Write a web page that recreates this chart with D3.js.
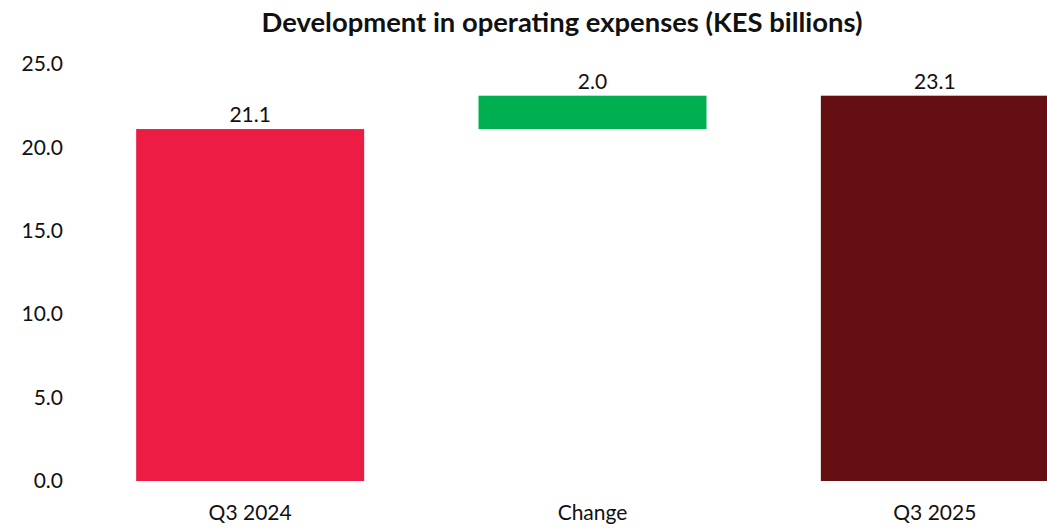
<!DOCTYPE html>
<html lang="en">
<head>
<meta charset="UTF-8">
<title>Development in operating expenses</title>
<script src="https://cdn.jsdelivr.net/npm/d3@7"></script>
<style>
  body { margin: 0; background: #fff; }
  text { font-family: Lato, "Open Sans", sans-serif; fill: #111; }
</style>
</head>
<body>
<svg id="mainsvg" width="1047" height="528"></svg>
<script>
    // data
    const categories = ['Q3 2024', 'Change', 'Q3 2025'];
    const barStart = [0, 21.1, 0];
    const barEnd = [21.1, 23.1, 23.1];
    const labels = ['21.1', '2.0', '23.1'];
    const colors = ['#EC1C45', '#00AF50', '#650F12'];
    const yTicks = [0, 5, 10, 15, 20, 25];

    const svg = d3.select('#mainsvg');

    const xScale = d3.scaleBand()
        .domain(categories)
        .range([79, 1106])
        .paddingInner(0.334)
        .paddingOuter(0.167);

    const yScale = d3.scaleLinear()
        .domain([0, 25])
        .range([481, 64]);

    const rows = categories.map((c, i) => ({c, s: barStart[i], e: barEnd[i], label: labels[i], color: colors[i]}));

    // title
    svg.append('text')
        .attr('x', 562).attr('y', 32)
        .attr('text-anchor', 'middle')
        .attr('font-weight', 'bold')
        .attr('font-size', 27.4)
        .text('Development in operating expenses (KES billions)');

    // y axis
    const yAxis = svg.append('g')
        .attr('transform', 'translate(63,0)')
        .call(d3.axisLeft(yScale).tickValues(yTicks).tickFormat(d3.format('.1f')).tickSize(0).tickPadding(0));
    yAxis.select('.domain').remove();
    yAxis.selectAll('text').attr('font-size', 21).attr('font-family', 'Lato, sans-serif').attr('fill', '#111');

    // x axis
    const xAxis = svg.append('g')
        .attr('transform', 'translate(0,481)')
        .call(d3.axisBottom(xScale).tickSize(0).tickPadding(24));
    xAxis.select('.domain').remove();
    xAxis.selectAll('text').attr('font-size', 21).attr('font-family', 'Lato, sans-serif').attr('fill', '#111');

    // bars
    svg.selectAll('rect.bar').data(rows)
        .join('rect')
        .attr('class', 'bar')
        .attr('x', d => xScale(d.c))
        .attr('y', d => yScale(d.e))
        .attr('width', xScale.bandwidth())
        .attr('height', d => yScale(d.s) - yScale(d.e))
        .attr('fill', d => d.color);

    // value labels
    svg.selectAll('text.val').data(rows)
        .join('text')
        .attr('class', 'val')
        .attr('x', d => xScale(d.c) + xScale.bandwidth() / 2)
        .attr('y', d => yScale(d.e) - 7)
        .attr('text-anchor', 'middle')
        .attr('font-size', 21)
        .text(d => d.label);
</script>
</body>
</html>
